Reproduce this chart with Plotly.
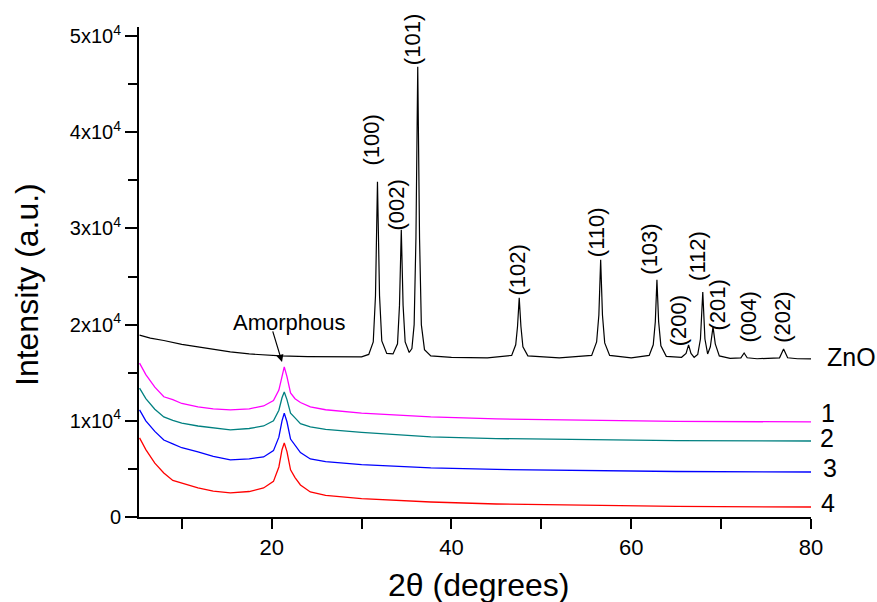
import plotly.graph_objects as go

# ---------------- data ----------------
zno_x = [5.3, 6.5, 8, 10, 11.8, 13.5, 15.4, 17.5, 19.1, 21, 24, 27, 30,
         30.8, 31.3, 31.55, 31.77, 32.0, 32.25, 32.8,
         33.5, 34.0, 34.22, 34.42, 34.62, 34.85, 35.3,
         35.6, 35.85, 36.05, 36.25, 36.45, 36.65, 37.0,
         37.7, 40, 44,
         46.7, 47.15, 47.35, 47.54, 47.73, 47.95, 48.5,
         52, 55.6, 56.15, 56.4, 56.6, 56.8, 57.05, 57.6,
         60, 62.0, 62.45, 62.68, 62.86, 63.05, 63.3, 63.9,
         65.6, 66.1, 66.38, 66.65, 67.0,
         67.4, 67.7, 67.96, 68.2, 68.5,
         68.8, 69.1, 69.35, 69.8,
         71, 72.2, 72.56, 72.9, 74,
         76.5, 76.95, 77.4, 78.5, 80]
zno_y = [18900, 18600, 18350, 17950, 17680, 17400, 17160, 16950, 16850, 16750, 16680, 16640, 16640,
         16900, 18200, 23000, 34850, 23000, 18300, 17000,
         16950, 18000, 22000, 29850, 22000, 18200, 17100,
         17500, 20000, 29000, 46800, 29000, 20000, 17400,
         16750, 16600, 16550,
         16800, 17900, 19800, 22780, 19800, 17700, 16750,
         16550, 16800, 18200, 21000, 26730, 21000, 18100, 16800,
         16550, 16800, 17900, 20300, 24650, 20300, 17800, 16700,
         16600, 17000, 17890, 17000, 16600,
         16900, 18500, 23400, 18500, 16950,
         17700, 19760, 18000, 16750,
         16500, 16550, 17050, 16550, 16450,
         16550, 17470, 16550, 16450, 16430]

am_x = [5.3, 6, 7, 8, 9, 10, 11.8, 13.5, 15.4, 17.5, 19.1, 20.2, 20.8, 21.15, 21.4,
        21.7, 22.1, 22.6, 23.2, 24.3, 26, 30, 37.7, 45, 55, 65, 80]
s1_y = [16000, 14800, 13500, 12500, 12200, 11800, 11440, 11250, 11130, 11250, 11540, 12100, 13200, 14800, 15600,
        14600, 12900, 12300, 11900, 11440, 11150, 10800, 10400, 10200, 10050, 9950, 9880]
s2_y = [13400, 12300, 11200, 10400, 10050, 9750, 9460, 9250, 9050, 9200, 9460, 10000, 11100, 12400, 13000,
        12200, 10800, 10300, 9700, 9360, 9100, 8800, 8320, 8150, 8050, 7950, 7900]
s3_y = [11130, 10000, 8900, 8000, 7600, 7200, 6760, 6300, 5930, 6050, 6240, 6900, 8300, 10000, 10800,
        9900, 8100, 7500, 6700, 6030, 5750, 5450, 5100, 4950, 4820, 4730, 4680]
s4_y = [8220, 7000, 5600, 4580, 3800, 3500, 3020, 2700, 2500, 2650, 3020, 3700, 5200, 7000, 7700,
        6800, 4900, 4100, 3330, 2600, 2250, 1900, 1560, 1350, 1200, 1100, 1040]

series_names = ["1", "2", "3", "4"]
series_colors = ["#FF00FF", "#008080", "#0000FF", "#FF0000"]

peak_labels = ["(100)", "(002)", "(101)", "(102)", "(110)", "(103)",
               "(200)", "(112)", "(201)", "(004)", "(202)"]
# label anchor positions (x centre, y bottom) in data units
peak_lab_x = [31.16, 33.94, 35.60, 47.40, 56.1, 62.0, 65.3, 67.3, 69.65, 73.0, 76.8]
peak_lab_y = [36380, 29620, 46810, 22870, 26820, 24950, 17570, 24320, 19230, 17880, 17880]

y_tickvals = [0, 10000, 20000, 30000, 40000, 50000]
y_ticktext = ["0", "1x10<sup>4</sup>", "2x10<sup>4</sup>", "3x10<sup>4</sup>",
              "4x10<sup>4</sup>", "5x10<sup>4</sup>"]
x_tickvals = [20, 40, 60, 80]

FONT = "Liberation Sans, Arial, sans-serif"

fig = go.Figure()
fig.add_trace(go.Scatter(x=zno_x, y=zno_y, mode="lines",
                         line=dict(color="black", width=1.2), name="ZnO"))
for yy, nm, col in zip([s1_y, s2_y, s3_y, s4_y], series_names, series_colors):
    fig.add_trace(go.Scatter(x=am_x, y=yy, mode="lines",
                             line=dict(color=col, width=1.3), name=nm))

ann = []
for t, x, y in zip(peak_labels, peak_lab_x, peak_lab_y):
    ann.append(dict(x=x, y=y, xref="x", yref="y", text=t, showarrow=False,
                    textangle=-90, xanchor="center", yanchor="bottom",
                    font=dict(size=22, color="black", family=FONT)))

# right-side curve labels (paper coords)
right_labels = [("ZnO", 1.0208, 0.3265, "left"), ("1", 1.0253, 0.2122, "center"),
                ("2", 1.0238, 0.1612, "center"), ("3", 1.0283, 0.100, "center"),
                ("4", 1.0253, 0.0286, "center")]
for t, x, y, xa in right_labels:
    ann.append(dict(x=x, y=y, xref="paper", yref="paper", text=t, showarrow=False,
                    xanchor=xa, yanchor="middle",
                    font=dict(size=25, color="black", family=FONT)))

# Amorphous label + arrow
ann.append(dict(x=(289 - 139) / 672, y=(517 - 322) / 490, xref="paper", yref="paper",
                text="Amorphous", showarrow=False, xanchor="center", yanchor="middle",
                font=dict(size=22, color="black", family=FONT)))
ann.append(dict(x=21.15, y=16120, xref="x", yref="y", text=" ", showarrow=True,
                ax=-10, ay=-33, axref="pixel", ayref="pixel",
                arrowhead=2, arrowsize=1.2, arrowwidth=1.2, arrowcolor="black",
                standoff=0, startstandoff=0,
                font=dict(size=2)))

# axis titles
ann.append(dict(x=(27 - 139) / 672, y=(517 - 285) / 490, xref="paper", yref="paper",
                text="Intensity (a.u.)", showarrow=False, textangle=-90,
                xanchor="center", yanchor="middle",
                font=dict(size=32, color="black", family=FONT)))
ann.append(dict(x=(478.5 - 139) / 672, y=(517 - 585) / 490, xref="paper", yref="paper",
                text="2\u03b8 (degrees)", showarrow=False,
                xanchor="center", yanchor="middle",
                font=dict(size=32, color="black", family=FONT)))

fig.update_layout(
    width=877, height=602,
    margin=dict(l=139, r=66, t=27, b=85),
    plot_bgcolor="white", paper_bgcolor="white",
    showlegend=False,
    annotations=ann,
    font=dict(family=FONT, color="black"),
    xaxis=dict(range=[5.24, 80], showgrid=False, zeroline=False,
               showline=True, linecolor="black", linewidth=2,
               tickmode="array", tickvals=x_tickvals,
               ticks="outside", ticklen=10, tickwidth=1.5, tickcolor="black",
               tickfont=dict(size=22, family=FONT, color="black"),
               minor=dict(tickmode="linear", tick0=0, dtick=10, ticks="outside",
                          ticklen=10, tickwidth=1.5, tickcolor="black", showgrid=False)),
    yaxis=dict(range=[0, 50940], showgrid=False, zeroline=False,
               showline=True, linecolor="black", linewidth=2,
               tickmode="array", tickvals=y_tickvals, ticktext=y_ticktext,
               ticks="outside", ticklen=12, tickwidth=1.5, tickcolor="black",
               tickfont=dict(size=20, family=FONT, color="black"),
               minor=dict(tickmode="linear", tick0=0, dtick=5000, ticks="outside",
                          ticklen=9, tickwidth=1.5, tickcolor="black", showgrid=False)),
)

fig.write_html("out.html")
